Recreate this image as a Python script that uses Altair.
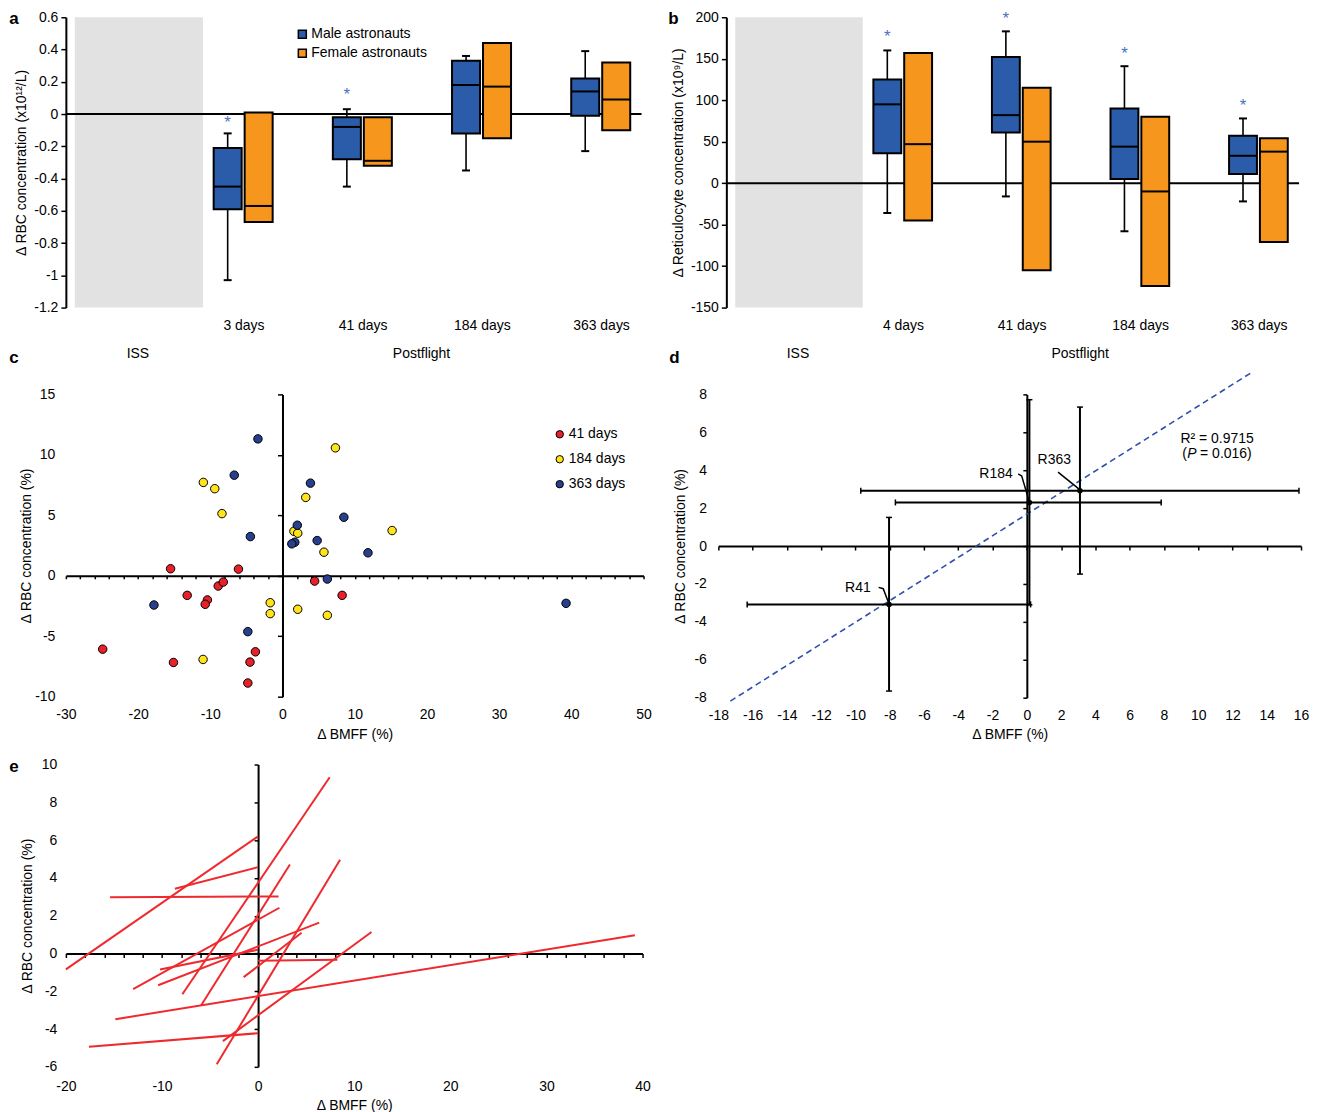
import altair as alt
import pandas as pd

FONT = "Liberation Sans"
BLUE = "#2a5caa"
ORANGE = "#f7961d"
STAR_BLUE = "#4a72c0"
GRAY = "#e2e2e2"
RED = "#e8202a"
YELLOW = "#ffe41c"
NAVY = "#273f8d"
LINE_RED = "#ee2a2f"
DASH_BLUE = "#2e4fae"
MINUS = "replace(datum.label, '\u2212', '-')"

SEXES = ["Male astronauts", "Female astronauts"]
GROUP_LABELS = ["ISS", "Postflight"]

# ---------------- panel a : delta RBC (x10^12/L) ----------------
a_days = ["3 days", "41 days", "184 days", "363 days"]
a_m_wlo = [-1.03, -0.45, -0.35, -0.23]
a_m_q1 = [-0.59, -0.28, -0.12, -0.01]
a_m_med = [-0.45, -0.08, 0.18, 0.14]
a_m_q3 = [-0.21, -0.02, 0.33, 0.22]
a_m_whi = [-0.12, 0.03, 0.36, 0.39]
a_f_q1 = [-0.67, -0.32, -0.15, -0.10]
a_f_med = [-0.57, -0.29, 0.17, 0.09]
a_f_q3 = [0.01, -0.02, 0.44, 0.32]
a_star_days = ["3 days", "41 days"]
a_star_y = [-0.03, 0.14]
a_yticks = [0.6, 0.4, 0.2, 0, -0.2, -0.4, -0.6, -0.8, -1, -1.2]

# ---------------- panel b : delta reticulocytes (x10^9/L) ----------------
b_days = ["4 days", "41 days", "184 days", "363 days"]
b_m_wlo = [-36, -16, -58, -22]
b_m_q1 = [36, 61, 5, 11]
b_m_med = [95, 82, 44, 33]
b_m_q3 = [125, 152, 90, 57]
b_m_whi = [160, 183, 141, 78]
b_f_q1 = [-45, -105, -124, -71]
b_f_med = [47, 50, -10, 38]
b_f_q3 = [157, 115, 80, 54]
b_star_days = ["4 days", "41 days", "184 days", "363 days"]
b_star_y = [181, 203, 161, 98]
b_yticks = [200, 150, 100, 50, 0, -50, -100, -150]

# ---------------- panel c : scatter ----------------
c_groups = ["41 days", "184 days", "363 days"]
c41_x = [-15.5, -6.1, -8.9, -8.2, -13.2, -10.4, -10.7, 4.45, 8.26, -24.9, -15.1, -4.5, -3.75, -4.8]
c41_y = [0.58, 0.55, -0.85, -0.52, -1.62, -2.0, -2.36, -0.44, -1.62, -6.07, -7.17, -7.14, -6.29, -8.87]
c184_x = [-10.96, -9.38, -8.38, 7.33, 3.22, 1.58, 2.11, 5.74, 15.18, -1.7, -1.7, 2.11, 6.21, -11.0]
c184_y = [7.72, 7.2, 5.14, 10.58, 6.48, 3.68, 3.52, 1.95, 3.74, -2.23, -3.13, -2.77, -3.27, -6.92]
c363_x = [-3.4, -6.68, 3.87, 8.5, 2.05, -4.45, 1.7, 1.29, 4.8, 11.84, 6.21, -17.8, 39.27, -4.8]
c363_y = [11.32, 8.32, 7.66, 4.84, 4.18, 3.24, 2.77, 2.64, 2.91, 1.9, -0.27, -2.42, -2.28, -4.62]

# ---------------- panel d : means with error bars ----------------
d_names = ["R41", "R184", "R363"]
d_x = [-8.04, 0.15, 3.1]
d_y = [-3.08, 2.3, 2.92]
d_xlo = [-16.32, -7.67, -9.69]
d_xhi = [0.22, 7.84, 15.88]
d_ylo = [-7.65, -3.1, -1.48]
d_yhi = [1.51, 7.72, 7.33]
d_lab_x = [-9.86, -1.8, 1.6]
d_lab_y = [-2.22, 3.79, 4.55]
d_lead_x = [[-8.65, -8.38, -8.04], [-0.5, -0.3, 0.12], [1.82, 3.05]]
d_lead_y = [[-2.18, -2.25, -3.06], [3.8, 3.7, 2.4], [3.9, 3.0]]
d_fit_x = [-17.3, 13.05]
d_fit_y = [-8.18, 9.12]
d_stat_x = 11.1
d_r2_y = 5.65
d_p_y = 4.85
d_r2_text = "R\u00b2 = 0.9715"
d_p_parts = ["(", "P", "= 0.016)"]

# ---------------- panel e : per-astronaut lines ----------------
e_x0 = [-20, -8.66, -15.4, -7.88, -5.92, -13.0, -10.4, -10.2, -1.5, 0, -3.66, -4.3, -14.85, -17.6]
e_y0 = [-0.84, 3.43, 2.97, -2.16, -2.74, -1.89, -1.68, -0.85, -1.25, -0.38, -4.64, -5.86, -3.48, -4.94]
e_x1 = [0, 0, 2.13, 7.45, 3.31, 2.22, 6.36, 0, 4.53, 8.25, 11.8, 8.53, 39.2, 0]
e_y1 = [6.2, 4.57, 3.02, 9.33, 4.71, 2.42, 1.63, 0.2, 1.1, -0.33, 1.14, 4.96, 0.96, -4.22]

Y_RBC_PCT = "\u0394 RBC concentration (%)"
X_BMFF = "\u0394 BMFF (%)"

# layout constants (style)
SLOT0 = 1.49
XMAX = 4.83
MALE_OFF = (-0.25, -0.015)
FEMALE_OFF = (0.01, 0.245)
ISS_BAND = (0.075, 1.15)
ISS_LABEL_X = 0.6
POST_LABEL_X = 2.98


def letter_layer(letter, dx, dy):
    return alt.Chart(pd.DataFrame({"t": [letter]})).mark_text(
        fontWeight="bold", fontSize=17, align="center", baseline="middle", color="black"
    ).encode(text="t:N", x=alt.value(dx), y=alt.value(dy))


def box_panel(days, m_wlo, m_q1, m_med, m_q3, m_whi, f_q1, f_med, f_q3,
              star_days, star_y, ydom, yticks, yfmt, ytitle, width, height,
              letter, letter_dx, show_legend, title_pad):
    pos = {d: SLOT0 + i for i, d in enumerate(days)}
    n = len(days)
    sex = [SEXES[0]] * n + [SEXES[1]] * n
    dd = days + days
    boxes = pd.DataFrame({"day": dd, "sex": sex, "q1": m_q1 + f_q1,
                          "med": m_med + f_med, "q3": m_q3 + f_q3})
    boxes["x0"] = [pos[d] + (MALE_OFF[0] if s == SEXES[0] else FEMALE_OFF[0]) for d, s in zip(dd, sex)]
    boxes["x1"] = [pos[d] + (MALE_OFF[1] if s == SEXES[0] else FEMALE_OFF[1]) for d, s in zip(dd, sex)]
    mc = (MALE_OFF[0] + MALE_OFF[1]) / 2
    wh = pd.DataFrame({"xc": [pos[d] + mc for d in days], "lo": m_wlo, "hi": m_whi})
    caps = pd.DataFrame({"xc": list(wh["xc"]) * 2, "y": m_wlo + m_whi})
    stars = pd.DataFrame({"xc": [pos[d] + mc for d in star_days], "y": star_y})
    band = pd.DataFrame({"x0": [ISS_BAND[0]], "x1": [ISS_BAND[1]], "y0": [ydom[0]], "y1": [ydom[1]]})
    zero = pd.DataFrame({"y": [0]})

    xs = alt.Scale(domain=[0, XMAX], nice=False, zero=False)
    ys = alt.Scale(domain=ydom, nice=False, zero=False)
    days_expr = "[" + ",".join("'%s'" % d for d in days) + "][round(datum.value - %s)]" % SLOT0
    days_axis = alt.Axis(orient="bottom", values=[pos[d] for d in days], labelExpr=days_expr,
                         title=None, domain=False, ticks=False, tickSize=0, labelPadding=11)
    grp_axis = alt.Axis(orient="bottom", values=[ISS_LABEL_X, POST_LABEL_X],
                        labelExpr="datum.value < %s ? '%s' : '%s'" % (SLOT0, GROUP_LABELS[0], GROUP_LABELS[1]),
                        title=None, domain=False, ticks=False, tickSize=0, labelPadding=11, offset=28)
    y_axis = alt.Axis(orient="left", values=yticks, format=yfmt, labelExpr=MINUS, title=ytitle,
                      domainWidth=2, tickSize=5, tickWidth=1.5, labelPadding=3, titlePadding=title_pad)

    band_l = alt.Chart(band).mark_rect(color=GRAY).encode(
        x=alt.X("x0:Q", scale=xs, axis=grp_axis), x2="x1",
        y=alt.Y("y0:Q", scale=ys, axis=None), y2="y1")
    zero_l = alt.Chart(zero).mark_rule(color="black", strokeWidth=2).encode(
        y=alt.Y("y:Q", scale=ys, axis=None))
    wh_l = alt.Chart(wh).mark_rule(color="black", strokeWidth=1.6).encode(
        x=alt.X("xc:Q", scale=xs, axis=None), y=alt.Y("lo:Q", scale=ys, axis=None), y2="hi")
    cap_l = alt.Chart(caps).mark_tick(orient="horizontal", size=8, thickness=2, color="black", opacity=1).encode(
        x=alt.X("xc:Q", scale=xs, axis=None), y=alt.Y("y:Q", scale=ys, axis=None))
    if show_legend:
        leg = alt.Legend(orient="none", legendX=230, legendY=10, title=None, symbolType="square",
                         symbolSize=64, symbolStrokeColor="black", symbolStrokeWidth=1.5,
                         labelFontSize=14, labelOffset=2, rowPadding=5, padding=0, labelColor="black")
    else:
        leg = None
    box_l = alt.Chart(boxes).mark_rect(stroke="black", strokeWidth=2, opacity=1).encode(
        x=alt.X("x0:Q", scale=xs, axis=days_axis), x2="x1",
        y=alt.Y("q1:Q", scale=ys, axis=y_axis), y2="q3",
        color=alt.Color("sex:N", scale=alt.Scale(domain=SEXES, range=[BLUE, ORANGE]), legend=leg))
    med_l = alt.Chart(boxes).mark_rule(color="black", strokeWidth=2).encode(
        x=alt.X("x0:Q", scale=xs, axis=None), x2="x1", y=alt.Y("med:Q", scale=ys, axis=None))
    star_l = alt.Chart(stars).mark_text(text="*", color=STAR_BLUE, fontSize=17, dy=4, clip=False).encode(
        x=alt.X("xc:Q", scale=xs, axis=None), y=alt.Y("y:Q", scale=ys, axis=None))
    return alt.layer(band_l, zero_l, wh_l, cap_l, box_l, med_l, star_l,
                     letter_layer(letter, letter_dx, 2)).resolve_axis(
        x="independent", y="independent").properties(width=width, height=height)


def label_axis(orient, values, title, label_pad, title_pad):
    return alt.Axis(orient=orient, values=values, title=title, domain=False, ticks=False, tickSize=0,
                    labelPadding=label_pad, titlePadding=title_pad, labelExpr=MINUS)


def zero_axis(orient, values, offset, tick_size):
    return alt.Axis(orient=orient, values=values, offset=offset, labels=False, title=None,
                    domain=True, ticks=True, tickSize=tick_size, domainWidth=2, tickWidth=1.5)


def rng(a, b, s):
    return list(range(a, b + 1, s))


# ---------- panel a, b ----------
pa = box_panel(a_days, a_m_wlo, a_m_q1, a_m_med, a_m_q3, a_m_whi, a_f_q1, a_f_med, a_f_q3,
               a_star_days, a_star_y, [-1.2, 0.6], a_yticks, ".1~f",
               "\u0394 RBC concentration (x10\u00b9\u00b2/L)", 577, 291, "a", -52, True, 5)
pb = box_panel(b_days, b_m_wlo, b_m_q1, b_m_med, b_m_q3, b_m_whi, b_f_q1, b_f_med, b_f_q3,
               b_star_days, b_star_y, [-150, 200], b_yticks, "d",
               "\u0394 Reticulocyte concentration (x10\u2079/L)", 574, 291, "b", -53, False, 5)

# ---------- panel c ----------
CW, CH = 579, 303
cxd, cyd = [-30, 50], [-10, 15]
cdf = pd.DataFrame({
    "x": c41_x + c184_x + c363_x,
    "y": c41_y + c184_y + c363_y,
    "g": [c_groups[0]] * len(c41_x) + [c_groups[1]] * len(c184_x) + [c_groups[2]] * len(c363_x),
})
cxs = alt.Scale(domain=cxd, nice=False, zero=False)
cys = alt.Scale(domain=cyd, nice=False, zero=False)
c_leg = alt.Legend(orient="none", legendX=488, legendY=33, title=None, symbolType="circle", symbolSize=55,
                   symbolStrokeColor="black", symbolStrokeWidth=1, labelFontSize=14, labelOffset=2,
                   rowPadding=11, padding=0, labelColor="black")
c_pts = alt.Chart(cdf).mark_circle(size=72, stroke="black", strokeWidth=1, opacity=1).encode(
    x=alt.X("x:Q", scale=cxs, axis=label_axis("bottom", rng(-30, 50, 10), X_BMFF, 11, 6)),
    y=alt.Y("y:Q", scale=cys, axis=label_axis("left", rng(-10, 15, 5), Y_RBC_PCT, 11, 1)),
    color=alt.Color("g:N", scale=alt.Scale(domain=c_groups, range=[RED, YELLOW, NAVY]), legend=c_leg))
c_ax = alt.Chart(cdf).mark_circle(opacity=0).encode(
    x=alt.X("x:Q", scale=cxs, axis=zero_axis("bottom", rng(-30, 50, 2), -(0 - cyd[0]) * CH / (cyd[1] - cyd[0]), 3)),
    y=alt.Y("y:Q", scale=cys, axis=zero_axis("left", rng(-10, 15, 5), -(0 - cxd[0]) * CW / (cxd[1] - cxd[0]), 5)))
pc = alt.layer(c_ax, c_pts, letter_layer("c", -52, -36)).resolve_axis(
    x="independent", y="independent").properties(width=CW, height=CH)

# ---------- panel d ----------
DW, DH = 584, 304
dxd, dyd = [-18, 16], [-8, 8]
dxs = alt.Scale(domain=dxd, nice=False, zero=False)
dys = alt.Scale(domain=dyd, nice=False, zero=False)
ddf = pd.DataFrame({"name": d_names, "x": d_x, "y": d_y, "xlo": d_xlo, "xhi": d_xhi,
                    "ylo": d_ylo, "yhi": d_yhi, "lx": d_lab_x, "ly": d_lab_y})
xcap = pd.DataFrame({"x": d_xlo + d_xhi, "y": d_y + d_y})
ycap = pd.DataFrame({"x": d_x + d_x, "y": d_ylo + d_yhi})
lead_rows = []
for nm, lx, ly in zip(d_names, d_lead_x, d_lead_y):
    for k, (xx, yy) in enumerate(zip(lx, ly)):
        lead_rows.append({"name": nm, "k": k, "x": xx, "y": yy})
lead = pd.DataFrame(lead_rows)
fit = pd.DataFrame({"x": d_fit_x, "y": d_fit_y})
stat = pd.DataFrame({"x": [d_stat_x], "y1": [d_r2_y], "y2": [d_p_y]})


def dX(f):
    return alt.X(f, scale=dxs, axis=None)


def dY(f):
    return alt.Y(f, scale=dys, axis=None)


d_fit = alt.Chart(fit).mark_line(color=DASH_BLUE, strokeDash=[6, 4], strokeWidth=1.6, clip=False).encode(
    x=dX("x:Q"), y=dY("y:Q"))
d_xe = alt.Chart(ddf).mark_rule(color="black", strokeWidth=2).encode(x=dX("xlo:Q"), x2="xhi", y=dY("y:Q"))
d_ye = alt.Chart(ddf).mark_rule(color="black", strokeWidth=2).encode(x=dX("x:Q"), y=dY("ylo:Q"), y2="yhi")
d_xc = alt.Chart(xcap).mark_tick(orient="vertical", size=6, thickness=1.5, color="black", opacity=1).encode(
    x=dX("x:Q"), y=dY("y:Q"))
d_yc = alt.Chart(ycap).mark_tick(orient="horizontal", size=6, thickness=1.5, color="black", opacity=1).encode(
    x=dX("x:Q"), y=dY("y:Q"))
d_pts = alt.Chart(ddf).mark_circle(size=30, color="black", opacity=1).encode(
    x=alt.X("x:Q", scale=dxs, axis=label_axis("bottom", rng(-18, 16, 2), X_BMFF, 11, 5)),
    y=alt.Y("y:Q", scale=dys, axis=label_axis("left", rng(-8, 8, 2), Y_RBC_PCT, 12, 6)))
d_ax = alt.Chart(ddf).mark_circle(opacity=0).encode(
    x=alt.X("x:Q", scale=dxs, axis=zero_axis("bottom", rng(-18, 16, 2), -(0 - dyd[0]) * DH / (dyd[1] - dyd[0]), 4)),
    y=alt.Y("y:Q", scale=dys, axis=zero_axis("left", rng(-8, 8, 2), -(0 - dxd[0]) * DW / (dxd[1] - dxd[0]), 4)))
d_lead = alt.Chart(lead).mark_line(color="black", strokeWidth=1.5).encode(
    x=dX("x:Q"), y=dY("y:Q"), detail="name:N", order="k:Q")
d_lab = alt.Chart(ddf).mark_text(fontSize=14, color="black").encode(x=dX("lx:Q"), y=dY("ly:Q"), text="name:N")
d_r2 = alt.Chart(stat).mark_text(fontSize=14, color="black", text=d_r2_text).encode(x=dX("x:Q"), y=dY("y1:Q"))
d_p1 = alt.Chart(stat).mark_text(fontSize=14, color="black", align="left", dx=-35, text=d_p_parts[0]).encode(
    x=dX("x:Q"), y=dY("y2:Q"))
d_p2 = alt.Chart(stat).mark_text(fontSize=14, color="black", align="left", dx=-30, fontStyle="italic",
                                 text=d_p_parts[1]).encode(x=dX("x:Q"), y=dY("y2:Q"))
d_p3 = alt.Chart(stat).mark_text(fontSize=14, color="black", align="left", dx=-17, text=d_p_parts[2]).encode(
    x=dX("x:Q"), y=dY("y2:Q"))
pd_ = alt.layer(d_ax, d_fit, d_xe, d_ye, d_xc, d_yc, d_pts, d_lead, d_lab, d_r2, d_p1, d_p2, d_p3,
                letter_layer("d", -44, -36)).resolve_axis(
    x="independent", y="independent").properties(width=DW, height=DH)

# ---------- panel e ----------
EW, EH = 578, 303
exd, eyd = [-20, 40], [-6, 10]
exs = alt.Scale(domain=exd, nice=False, zero=False)
eys = alt.Scale(domain=eyd, nice=False, zero=False)
ne = len(e_x0)
edf = pd.DataFrame({"id": list(range(ne)) * 2, "k": [0] * ne + [1] * ne,
                    "x": e_x0 + e_x1, "y": e_y0 + e_y1})
e_lines = alt.Chart(edf).mark_line(color=LINE_RED, strokeWidth=2).encode(
    x=alt.X("x:Q", scale=exs, axis=label_axis("bottom", rng(-20, 40, 10), X_BMFF, 13, 5)),
    y=alt.Y("y:Q", scale=eys, axis=label_axis("left", rng(-6, 10, 2), Y_RBC_PCT, 9, 7)),
    detail="id:N", order="k:Q")
e_ax = alt.Chart(edf).mark_circle(opacity=0).encode(
    x=alt.X("x:Q", scale=exs, axis=zero_axis("bottom", rng(-20, 40, 2), -(0 - eyd[0]) * EH / (eyd[1] - eyd[0]), 4)),
    y=alt.Y("y:Q", scale=eys, axis=zero_axis("left", rng(-6, 10, 2), -(0 - exd[0]) * EW / (exd[1] - exd[0]), 4)))
pe = alt.layer(e_ax, e_lines, letter_layer("e", -52, 2)).resolve_axis(
    x="independent", y="independent").properties(width=EW, height=EH)

row1 = alt.hconcat(pa, pb, spacing=25).resolve_scale(color="independent").resolve_legend(color="independent")
row2 = alt.hconcat(pc, pd_, spacing=17).resolve_scale(color="independent").resolve_legend(color="independent")
top = alt.vconcat(row1, row2, spacing=-11).resolve_scale(color="independent").resolve_legend(color="independent")
chart = alt.vconcat(top, pe, spacing=16, padding={"left": 1, "top": 0, "right": 5, "bottom": 0}
                    ).resolve_scale(color="independent").resolve_legend(color="independent")

chart = chart.configure(font=FONT).configure_view(stroke=None).configure_axis(
    labelFont=FONT, titleFont=FONT, labelFontSize=14, titleFontSize=14, labelColor="black",
    titleColor="black", domainColor="black", tickColor="black", titleFontWeight="normal",
    grid=False, labelFlush=False, labelOverlap=False
).configure_legend(labelFont=FONT)

chart.save("out.html", embed_options={"renderer": "svg", "actions": False})
